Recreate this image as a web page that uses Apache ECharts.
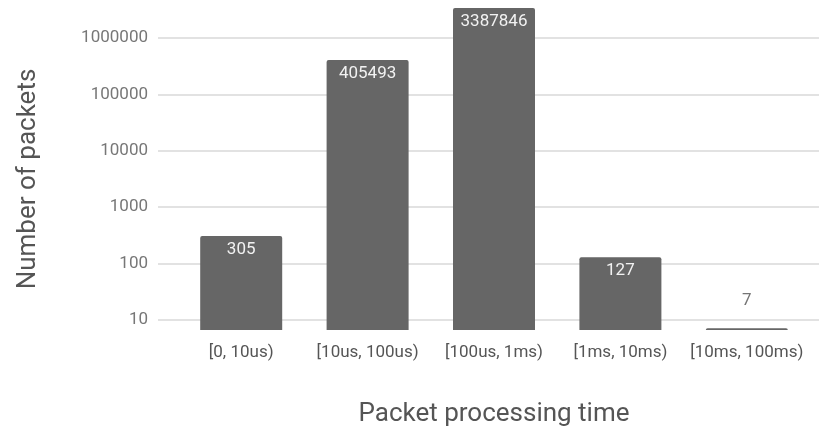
<!DOCTYPE html>
<html>
<head>
<meta charset="utf-8">
<script src="https://cdn.jsdelivr.net/npm/echarts@6/dist/echarts.min.js"></script>
<style>
html,body{margin:0;padding:0;background:#fff;}
#chart{width:819px;height:432px;}
</style>
</head>
<body>
<div id="chart"></div>
<script>
const categories = ['[0, 10us)', '[10us, 100us)', '[100us, 1ms)', '[1ms, 10ms)', '[10ms, 100ms)'];
const packetCounts = [305, 405493, 3387846, 127, 7];
const yTickMin = 10;
const yTickMax = 1000000;
const yTitle = 'Number of packets';
const xTitle = 'Packet processing time';

const FONT = 'Roboto';
const chart = echarts.init(document.getElementById('chart'), null, {renderer: 'canvas'});

const barData = packetCounts.map(function (v) {
  const small = v < 10;
  return {
    value: v,
    label: small ? {
      position: 'top', distance: 19, color: '#757575'
    } : {
      position: 'insideTop', distance: 5, color: '#f2f2f2'
    }
  };
});

chart.setOption({
  backgroundColor: '#ffffff',
  animation: false,
  textStyle: {fontFamily: FONT},
  grid: [
    {left: 158, right: 0, top: 38, bottom: 112},
    {left: 178, right: 9, top: 4, bottom: 101.4}
  ],
  xAxis: [
    {gridIndex: 0, type: 'category', data: categories, show: false},
    {
      gridIndex: 1, type: 'category', data: categories,
      axisLine: {show: false}, axisTick: {show: false},
      axisLabel: {fontFamily: FONT, fontSize: 17, color: '#555', margin: 14, interval: 0},
      name: xTitle, nameLocation: 'middle', nameGap: 71,
      nameTextStyle: {fontFamily: FONT, fontSize: 26, color: '#555'}
    }
  ],
  yAxis: [
    {
      gridIndex: 0, type: 'log', logBase: 10, min: yTickMin, max: yTickMax,
      axisLine: {show: false}, axisTick: {show: false},
      axisLabel: {fontFamily: FONT, fontSize: 17, color: '#777', margin: 10,
        formatter: function (v) { return String(Math.round(v)); }},
      splitLine: {show: true, lineStyle: {color: '#d9d9d9', width: 1.5}},
      name: yTitle, nameLocation: 'middle', nameGap: 117, nameRotate: 90,
      nameTextStyle: {fontFamily: FONT, fontSize: 26, color: '#555'}
    },
    {
      gridIndex: 1, type: 'log', logBase: 10, min: 6.5, max: 4000000,
      show: false, splitLine: {show: false}
    }
  ],
  series: [{
    type: 'bar',
    xAxisIndex: 1, yAxisIndex: 1,
    data: barData,
    barWidth: 82,
    itemStyle: {color: '#666666', borderRadius: [2, 2, 0, 0]},
    label: {show: true, fontFamily: FONT, fontSize: 17}
  }]
});
</script>
</body>
</html>
